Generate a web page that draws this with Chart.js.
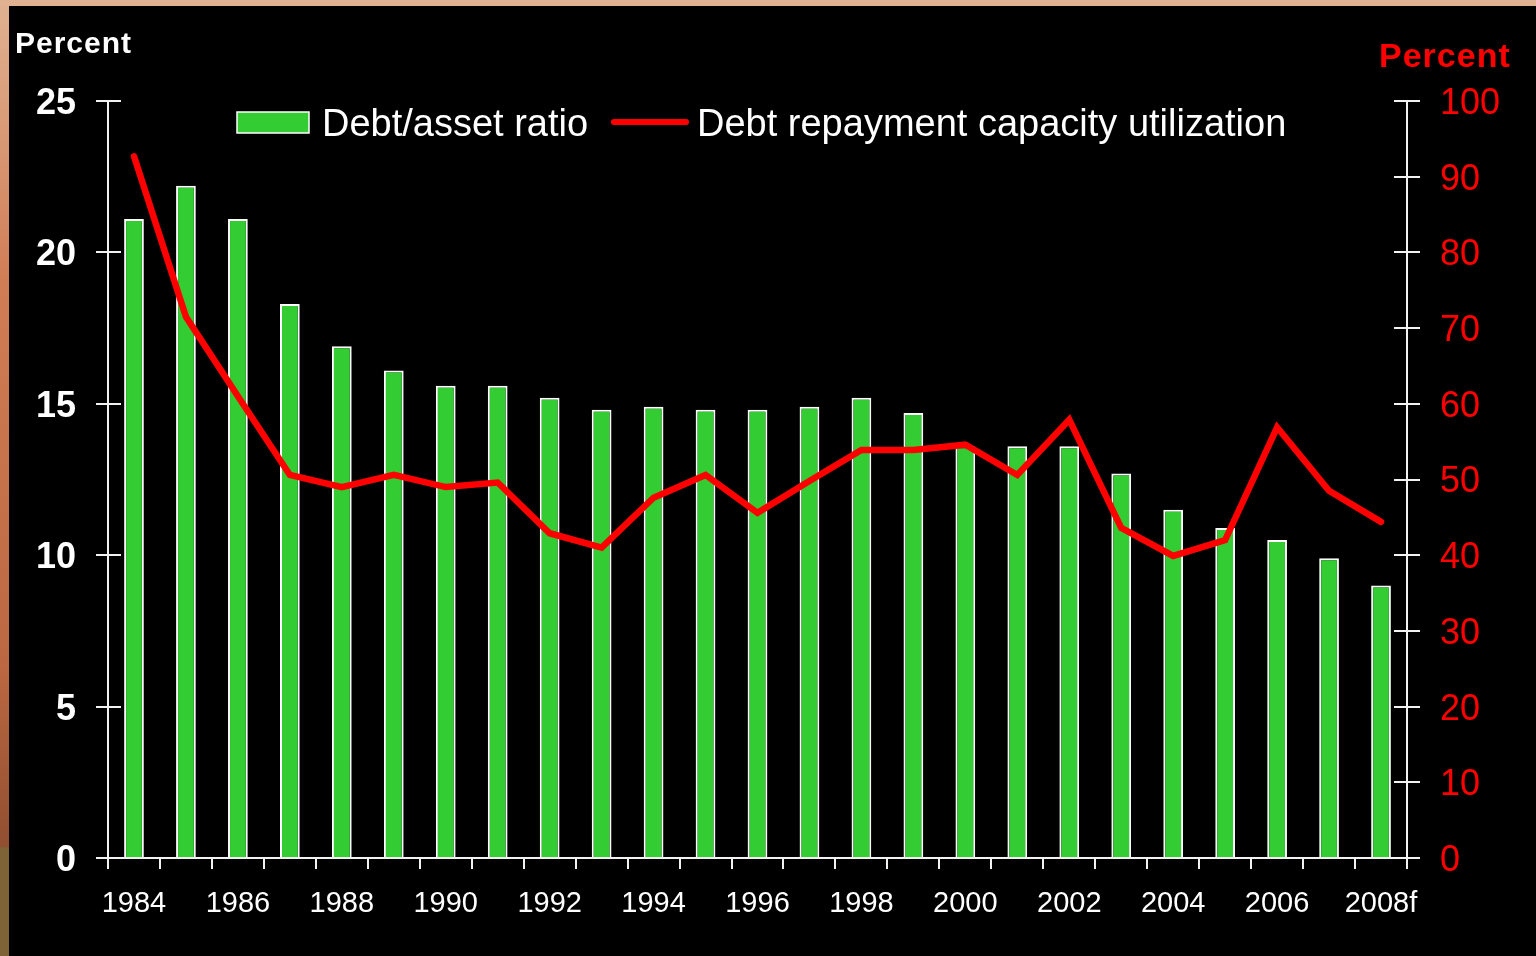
<!DOCTYPE html>
<html>
<head>
<meta charset="utf-8">
<script src="https://cdn.jsdelivr.net/npm/chart.js@4/dist/chart.umd.min.js"></script>
<style>
  html, body { margin: 0; padding: 0; background: #000; overflow: hidden; }
  #wrap { position: relative; width: 1536px; height: 956px; }
</style>
</head>
<body>
<div id="wrap"><canvas id="c" width="1536" height="956"></canvas></div>
<script>
// Farm sector debt indicators, 1984–2008 (2008 forecast)
const years = ['1984','1985','1986','1987','1988','1989','1990','1991','1992','1993','1994','1995','1996',
               '1997','1998','1999','2000','2001','2002','2003','2004','2005','2006','2007','2008f'];
const debtAssetRatio = [21.1, 22.2, 21.1, 18.3, 16.9, 16.1, 15.6, 15.6, 15.2, 14.8, 14.9, 14.8, 14.8,
                        14.9, 15.2, 14.7, 13.6, 13.6, 13.6, 12.7, 11.5, 10.9, 10.5, 9.9, 9.0];
const repaymentUtilization = [92.7, 71.5, 61.0, 50.6, 49.0, 50.6, 49.0, 49.6, 42.9, 41.0, 47.6, 50.6, 45.6,
                              49.8, 53.9, 53.9, 54.6, 50.6, 57.9, 43.6, 39.9, 42.0, 56.9, 48.5, 44.4];
const leftTicks = [0, 5, 10, 15, 20, 25];
const rightTicks = [0, 10, 20, 30, 40, 50, 60, 70, 80, 90, 100];

const FONT = '"Liberation Sans", Arial, sans-serif';
const AXIS = '#f2f2f2';
const GREEN = '#33cc33';
const RED = '#ff0000';

// slide frame and black panel
const backdrop = {
  id: 'backdrop',
  beforeDraw(chart) {
    const ctx = chart.ctx, w = chart.width, h = chart.height;
    ctx.save();
    ctx.fillStyle = '#000';
    ctx.fillRect(0, 0, w, h);
    const g = ctx.createLinearGradient(0, 0, 0, h);
    g.addColorStop(0, '#e0b292');
    g.addColorStop(0.3, '#d07c55');
    g.addColorStop(0.7, '#bb6741');
    g.addColorStop(0.885, '#914f31');
    g.addColorStop(0.8875, '#7d6335');
    g.addColorStop(1, '#7d6335');
    ctx.fillStyle = g;
    ctx.fillRect(0, 0, 9, h);
    ctx.fillStyle = '#e0b292';
    ctx.fillRect(0, 0, w, 6);
    ctx.restore();
  }
};

// axis lines with crossing tick marks, plus titles and legend
const frame = {
  id: 'frame',
  afterDraw(chart) {
    const ctx = chart.ctx, a = chart.chartArea;
    const x = chart.scales.x, yl = chart.scales.y, yr = chart.scales.y2;
    ctx.save();
    ctx.strokeStyle = AXIS;
    ctx.lineWidth = 2;
    ctx.lineCap = 'butt';
    ctx.beginPath();
    // left axis
    ctx.moveTo(a.left, a.top); ctx.lineTo(a.left, a.bottom);
    leftTicks.forEach(v => { const p = Math.round(yl.getPixelForValue(v)); ctx.moveTo(a.left - 12, p); ctx.lineTo(a.left + 13, p); });
    // right axis
    ctx.moveTo(a.right, a.top); ctx.lineTo(a.right, a.bottom);
    rightTicks.forEach(v => { const p = Math.round(yr.getPixelForValue(v)); ctx.moveTo(a.right - 13, p); ctx.lineTo(a.right + 13, p); });
    // category axis with boundary ticks
    ctx.moveTo(a.left - 12, a.bottom); ctx.lineTo(a.right + 13, a.bottom);
    for (let i = 0; i <= years.length; i++) {
      const px = Math.round(x.left + (x.right - x.left) * i / years.length);
      ctx.moveTo(px, a.bottom); ctx.lineTo(px, a.bottom + 11);
    }
    ctx.stroke();

    // axis titles
    ctx.textBaseline = 'alphabetic';
    ctx.textAlign = 'left';
    ctx.fillStyle = '#ffffff';
    ctx.font = 'bold 30px ' + FONT;
    if ('letterSpacing' in ctx) ctx.letterSpacing = '1px';
    ctx.fillText('Percent', 15, 53);
    ctx.fillStyle = RED;
    ctx.font = 'bold 34px ' + FONT;
    ctx.fillText('Percent', 1379, 67);
    if ('letterSpacing' in ctx) ctx.letterSpacing = '0px';

    // legend
    const ds = chart.data.datasets;
    ctx.font = '38px ' + FONT;
    ctx.textBaseline = 'middle';
    ctx.fillStyle = ds[0].backgroundColor;
    ctx.fillRect(237, 112, 72, 21);
    ctx.strokeStyle = '#ffffff';
    ctx.lineWidth = 1.5;
    ctx.strokeRect(237, 112, 72, 21);
    ctx.fillStyle = '#ffffff';
    ctx.fillText(ds[0].label, 322, 126);
    ctx.strokeStyle = ds[1].borderColor;
    ctx.lineWidth = 6;
    ctx.lineCap = 'round';
    ctx.beginPath(); ctx.moveTo(614, 122); ctx.lineTo(686, 122); ctx.stroke();
    ctx.fillStyle = '#ffffff';
    ctx.fillText(ds[1].label, 697, 126);
    ctx.restore();
  }
};

new Chart(document.getElementById('c'), {
  type: 'bar',
  data: {
    labels: years,
    datasets: [
      {
        type: 'bar',
        label: 'Debt/asset ratio',
        data: debtAssetRatio,
        yAxisID: 'y',
        backgroundColor: GREEN,
        borderColor: '#ffffff',
        borderWidth: 2,
        categoryPercentage: 1.0,
        barPercentage: 0.38,
        order: 2
      },
      {
        type: 'line',
        label: 'Debt repayment capacity utilization',
        data: repaymentUtilization,
        yAxisID: 'y2',
        borderColor: RED,
        backgroundColor: RED,
        borderWidth: 6.5,
        borderCapStyle: 'round',
        borderJoinStyle: 'miter',
        pointRadius: 0,
        tension: 0,
        fill: false,
        order: 1
      }
    ]
  },
  options: {
    responsive: false,
    animation: false,
    devicePixelRatio: 1,
    layout: { padding: { top: 101, left: 0, right: 0, bottom: 0 } },
    plugins: { legend: { display: false }, tooltip: { enabled: false } },
    scales: {
      x: {
        offset: true,
        grid: { display: true, offset: true, drawOnChartArea: false, drawTicks: true, tickLength: 10, color: 'rgba(0,0,0,0)' },
        border: { display: false },
        ticks: {
          autoSkip: false,
          maxRotation: 0,
          padding: 19,
          color: '#ffffff',
          font: { family: FONT, size: 29 },
          callback: (v, i) => (i % 2 === 0 ? years[i] : '')
        },
        afterFit: s => { s.height = 98; }
      },
      y: {
        position: 'left',
        min: 0, max: 25,
        grid: { display: true, drawOnChartArea: false, drawTicks: true, tickLength: 12, color: 'rgba(0,0,0,0)' },
        border: { display: false },
        ticks: {
          stepSize: 5,
          padding: 20,
          labelOffset: 3,
          color: '#ffffff',
          font: { family: FONT, size: 36, weight: 'bold' }
        },
        afterFit: s => { s.width = 108; }
      },
      y2: {
        position: 'right',
        min: 0, max: 100,
        grid: { display: true, drawOnChartArea: false, drawTicks: true, tickLength: 12, color: 'rgba(0,0,0,0)' },
        border: { display: false },
        ticks: {
          stepSize: 10,
          padding: 21,
          labelOffset: 3,
          color: RED,
          font: { family: FONT, size: 36 }
        },
        afterFit: s => { s.width = 129; }
      }
    }
  },
  plugins: [backdrop, frame]
});
</script>
</body>
</html>
